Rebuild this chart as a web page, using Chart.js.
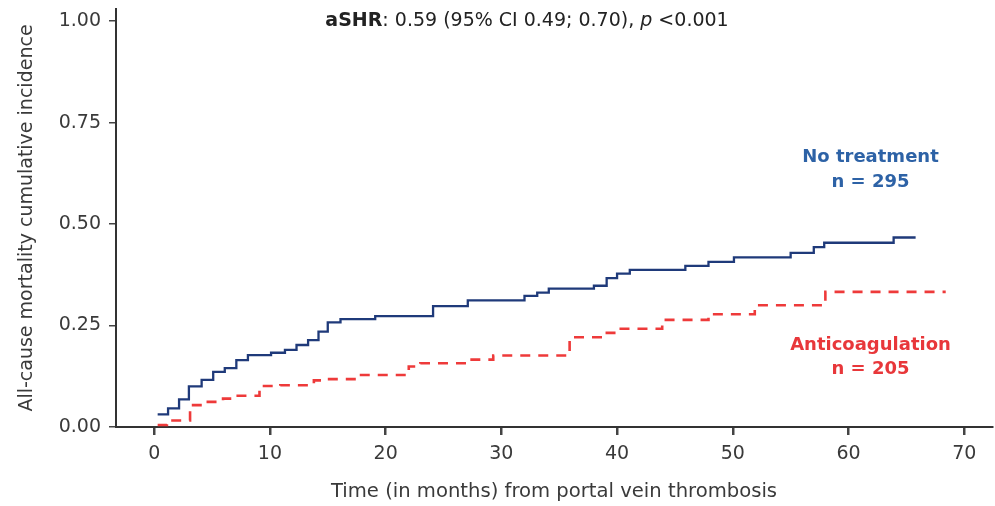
<!DOCTYPE html>
<html>
<head>
<meta charset="utf-8">
<script src="https://cdn.jsdelivr.net/npm/chart.js@4.4.1/dist/chart.umd.min.js"></script>
<style>
  html, body { margin: 0; padding: 0; background: #fff; }
  #wrap { width: 995px; height: 506px; }
</style>
</head>
<body>
<div id="wrap"><canvas id="kmchart" width="995" height="506"></canvas></div>
<script>
// step points: month where the step happens, incidence after it
var noTxMonths    = [0.3, 1.2, 2.15, 3.0, 4.1, 5.1, 6.1, 7.1, 8.1, 10.1, 11.3, 12.3, 13.3, 14.2, 15.0, 16.1, 19.1, 24.1, 27.1, 32.0, 33.1, 34.1, 38.0, 39.1, 40.0, 41.1, 45.9, 47.9, 50.1, 55.0, 57.0, 57.9, 63.9, 65.8];
var noTxIncidence = [0.031, 0.046, 0.068, 0.100, 0.116, 0.136, 0.145, 0.165, 0.177, 0.183, 0.190, 0.202, 0.214, 0.235, 0.258, 0.266, 0.273, 0.298, 0.312, 0.323, 0.331, 0.341, 0.348, 0.367, 0.378, 0.387, 0.397, 0.407, 0.418, 0.429, 0.443, 0.454, 0.467, 0.467];

var antiMonths    = [0.3, 1.1, 3.1, 4.5, 5.95, 7.1, 9.1, 10.9, 13.8, 14.9, 17.5, 22.0, 23.0, 27.0, 29.3, 35.9, 38.8, 40.0, 43.9, 47.9, 51.9, 58.0, 68.4];
var antiIncidence = [0.005, 0.016, 0.054, 0.062, 0.070, 0.077, 0.101, 0.103, 0.115, 0.118, 0.128, 0.149, 0.157, 0.166, 0.176, 0.221, 0.232, 0.242, 0.264, 0.278, 0.300, 0.333, 0.333];

var xTicks = [0, 10, 20, 30, 40, 50, 60, 70];
var yTicks = [0, 0.25, 0.5, 0.75, 1.0];

// group labels: text lines, anchor month, anchor incidence of each line
var groupNames  = ['No treatment', 'Anticoagulation'];
var groupCounts = ['n = 295', 'n = 205'];
var groupLabelX = [61.9, 61.9];
var groupNameY  = [0.665, 0.202];
var groupCountY = [0.603, 0.143];

var blue = '#1f3a7a';
var red = '#ee3a3a';
var blueText = '#2d62a6';
var redText = '#e8373a';
var FONT = "'DejaVu Sans', sans-serif";

function toPoints(xs, ys) {
    var pts = [];
    for (var i = 0; i < xs.length; i++) pts.push({x: xs[i], y: ys[i]});
    return pts;
}

// headline and group labels
var textPlugin = {
    id: 'kmText',
    afterDraw: function(chart) {
        var ctx = chart.ctx;
        var xs = chart.scales.x, ys = chart.scales.y;
        ctx.save();
        ctx.textBaseline = 'middle';

        // headline with mixed styles
        var parts = [
            ['bold 19px ' + FONT, 'aSHR'],
            ['19px ' + FONT, ': 0.59 (95% CI 0.49; 0.70), '],
            ['italic 19px ' + FONT, 'p'],
            ['19px ' + FONT, ' <0.001']
        ];
        var total = 0;
        parts.forEach(function(p) { ctx.font = p[0]; total += ctx.measureText(p[1]).width; });
        var x = 527 - total / 2;
        ctx.fillStyle = '#222';
        ctx.textAlign = 'left';
        parts.forEach(function(p) {
            ctx.font = p[0];
            ctx.fillText(p[1], x, 21);
            x += ctx.measureText(p[1]).width;
        });

        ctx.textAlign = 'center';
        ctx.font = 'bold 18px ' + FONT;
        var colors = [blueText, redText];
        for (var i = 0; i < groupNames.length; i++) {
            ctx.fillStyle = colors[i];
            var gx = xs.getPixelForValue(groupLabelX[i]);
            ctx.fillText(groupNames[i], gx, ys.getPixelForValue(groupNameY[i]));
            ctx.fillText(groupCounts[i], gx, ys.getPixelForValue(groupCountY[i]));
        }
        ctx.restore();
    }
};

var km = new Chart(document.getElementById('kmchart').getContext('2d'), {
    type: 'line',
    data: {
        datasets: [{
            label: 'No treatment',
            data: toPoints(noTxMonths, noTxIncidence),
            borderColor: blue,
            borderWidth: 2.3,
            stepped: 'before',
            pointRadius: 0,
            fill: false
        }, {
            label: 'Anticoagulation',
            data: toPoints(antiMonths, antiIncidence),
            borderColor: red,
            borderWidth: 2.6,
            borderDash: [10, 8],
            stepped: 'before',
            pointRadius: 0,
            fill: false
        }]
    },
    options: {
        responsive: false,
        animation: false,
        layout: { padding: { left: 0, right: 3, top: 9, bottom: 0 } },
        plugins: {
            legend: { display: false },
            tooltip: { enabled: false }
        },
        scales: {
            x: {
                type: 'linear',
                min: -3.3,
                max: 72.4,
                afterBuildTicks: function(scale) {
                    scale.ticks = xTicks.map(function(v) { return {value: v}; });
                },
                afterFit: function(scale) {
                    scale.height = 79;
                    scale.paddingLeft = 0;
                    scale.paddingRight = 0;
                },
                grid: { drawOnChartArea: false, tickLength: 8, color: '#444', lineWidth: 2.5 },
                border: { display: true, color: '#333', width: 2 },
                ticks: { color: '#3a3a3a', font: { family: FONT, size: 19 }, padding: 8, maxRotation: 0 },
                title: {
                    display: true,
                    text: 'Time (in months) from portal vein thrombosis',
                    color: '#3a3a3a',
                    font: { family: FONT, size: 19.6 },
                    padding: { top: 0, bottom: 2 }
                }
            },
            y: {
                type: 'linear',
                min: 0,
                max: 1.03,
                afterBuildTicks: function(scale) {
                    scale.ticks = yTicks.map(function(v) { return {value: v}; });
                },
                afterFit: function(scale) {
                    scale.width = 116;
                    scale.paddingTop = 0;
                    scale.paddingBottom = 0;
                },
                grid: { drawOnChartArea: false, tickLength: 7, color: '#444', lineWidth: 1.5 },
                border: { display: true, color: '#333', width: 2 },
                ticks: {
                    color: '#3a3a3a',
                    font: { family: FONT, size: 19 },
                    padding: 8,
                    callback: function(v) { return Number(v).toFixed(2); }
                },
                title: {
                    display: true,
                    text: 'All-cause mortality cumulative incidence',
                    color: '#3a3a3a',
                    font: { family: FONT, size: 19 },
                    padding: { top: 16, bottom: 0 }
                }
            }
        }
    },
    plugins: [textPlugin]
});
</script>
</body>
</html>
